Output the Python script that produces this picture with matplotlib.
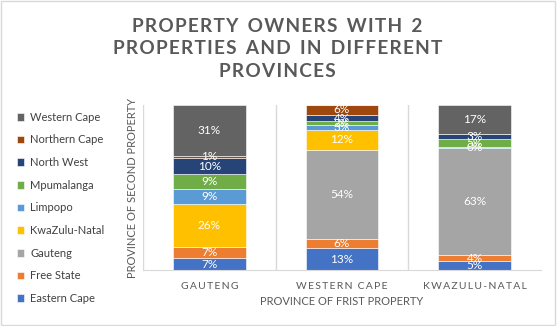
import numpy as np
import matplotlib.pyplot as plt
from matplotlib.patches import Rectangle

plt.rcParams['font.family'] = ['Lato', 'DejaVu Sans']

# first property province (x categories)
categories = ["GAUTENG", "WESTERN CAPE", "KWAZULU-NATAL"]

# second property province, share in % per first-property province
eastern_cape = [7, 13, 5]
free_state = [7, 6, 4]
gauteng = [0, 54, 63]
kwazulu_natal = [26, 12, 0]
limpopo = [9, 3, 0.49]
mpumalanga = [9, 2, 5]
north_west = [10, 4, 3]
northern_cape = [1, 6, 0]
western_cape = [31, 0, 17]

series = [
    ("Eastern Cape", eastern_cape, "#4472C4"),
    ("Free State", free_state, "#ED7D31"),
    ("Gauteng", gauteng, "#A5A5A5"),
    ("KwaZulu-Natal", kwazulu_natal, "#FFC000"),
    ("Limpopo", limpopo, "#5B9BD5"),
    ("Mpumalanga", mpumalanga, "#70AD47"),
    ("North West", north_west, "#264478"),
    ("Northern Cape", northern_cape, "#9E480E"),
    ("Western Cape", western_cape, "#636363"),
]

fig = plt.figure(figsize=(5.57, 3.26), dpi=100)
fig.patches.append(Rectangle((0.002, 0.003), 0.995, 0.993, transform=fig.transFigure,
                             fill=False, edgecolor="#D9D9D9", linewidth=1))
ax = fig.add_axes([0.257, 0.172, 0.714, 0.506])

# 100% stacked: heights scaled so each column fills the axis
totals = np.sum([s[1] for s in series], axis=0)

x = np.arange(len(categories))
bottom = np.zeros(len(categories))
handles = []
for name, vals, col in series:
    vals = np.array(vals, dtype=float)
    h = vals / totals * 100
    bars = ax.bar(x, h, 0.55, bottom=bottom, color=col, label=name,
                  edgecolor="white", linewidth=0.4)
    labels = [f"{v:.0f}%" if v > 0 else "" for v in vals]
    ax.bar_label(bars, labels=labels, label_type="center", color="white", fontsize=8.5)
    bottom += h
    handles.append(bars)

ax.set_xlim(-0.5, 2.5)
ax.set_ylim(0, 100)
ax.set_xticks(x)
ax.set_xticklabels(["\u2009".join(c) for c in categories], fontsize=7.5, color="#595959")
ax.tick_params(axis="x", length=0, pad=9)
ax.set_yticks([])
for s in ["top", "right", "left"]:
    ax.spines[s].set_visible(False)
ax.spines["bottom"].set_color("#D9D9D9")
for xv in [-0.5, 0.5, 1.5]:
    ax.axvline(xv, color="#D9D9D9", linewidth=1, zorder=0)

ax.set_xlabel("PROVINCE OF FRIST PROPERTY", fontsize=8, color="#595959", labelpad=3)
ax.set_ylabel("PROVINCE OF SECOND PROPERTY", fontsize=8, color="#595959", labelpad=4)

title_lines = ["PROPERTY OWNERS WITH 2", "PROPERTIES AND IN DIFFERENT", "PROVINCES"]
title = "\n".join("\u200a".join(w) for w in title_lines)
title = title.replace("\u200a \u200a", "  ")
fig.text(0.498, 0.945, title, ha="center", va="top", fontsize=13.7, fontweight="bold",
         color="#595959", linespacing=1.38)

leg = fig.legend(handles[::-1], [s[0] for s in series][::-1], loc="upper left",
                 bbox_to_anchor=(0.012, 0.688), frameon=False, fontsize=8,
                 labelcolor="#404040", handlelength=0.7, handleheight=0.7,
                 handletextpad=0.5, labelspacing=1.05)

fig.savefig("out.png", dpi=100)
